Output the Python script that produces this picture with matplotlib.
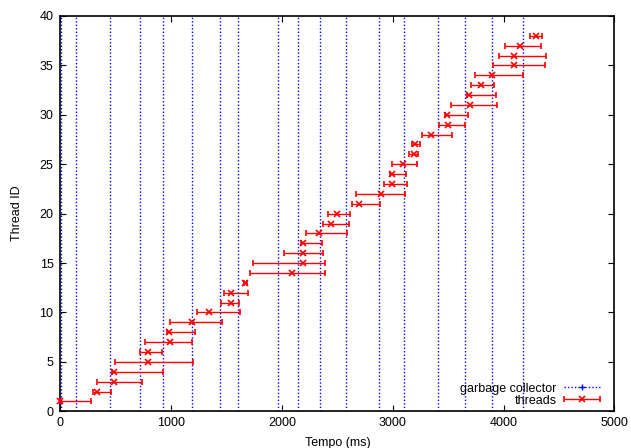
"""
Thread timeline vs. garbage collector runs (gnuplot-like style)
"""

import matplotlib
matplotlib.use("Agg")
import matplotlib.pyplot as plt
from matplotlib.lines import Line2D
from matplotlib.container import ErrorbarContainer
from matplotlib.legend_handler import HandlerErrorbar

# ── Data ─────────────────────────────────────────────────────────────────────

thread_ids = list(range(1, 39))
thread_x = [0, 333, 487, 487, 788, 788, 987, 984, 1188, 1339,
            1540, 1540, 1669, 2091, 2192, 2192, 2187, 2338, 2443, 2494,
            2696, 2893, 2994, 2991, 3095, 3192, 3204, 3343, 3496, 3490,
            3695, 3689, 3795, 3897, 4098, 4098, 4150, 4297]
thread_lo = [0, 291, 328, 466, 493, 722, 764, 962, 987, 1233,
             1447, 1480, 1655, 1714, 1735, 2022, 2172, 2217, 2374, 2419,
             2636, 2672, 2918, 2972, 2997, 3145, 3172, 3262, 3421, 3468,
             3527, 3667, 3703, 3746, 3903, 3957, 4014, 4237]
thread_hi = [272, 454, 740, 927, 1200, 920, 1191, 1213, 1459, 1621,
             1612, 1691, 1685, 2385, 2389, 2373, 2365, 2585, 2603, 2617,
             2883, 3112, 3130, 3123, 3222, 3229, 3247, 3535, 3656, 3680,
             3942, 3936, 3918, 4179, 4378, 4387, 4342, 4351]

gc_times = [5, 141, 451, 721, 924, 1185, 1441, 1603, 1964, 2145,
            2344, 2576, 2877, 3105, 3407, 3656, 3899, 4179]

x_ticks = [0, 1000, 2000, 3000, 4000, 5000]
y_ticks = [0, 5, 10, 15, 20, 25, 30, 35, 40]

# ── Figura ───────────────────────────────────────────────────────────────────

plt.rcParams["font.family"] = ["Liberation Sans", "DejaVu Sans"]
plt.rcParams["font.size"] = 9

fig = plt.figure(figsize=(6.31, 4.48), dpi=100)
ax = fig.add_axes([0.0957, 0.0819, 0.8778, 0.8824])

# garbage collector: vertical dotted lines
ax.vlines(gc_times, 0, 40, colors="#0000ff", linestyles=(0, (1, 1.5)),
          linewidth=1.0, zorder=1)

# threads: x error bars
err_lo = [x - lo for x, lo in zip(thread_x, thread_lo)]
err_hi = [hi - x for x, hi in zip(thread_x, thread_hi)]
eb = ax.errorbar(thread_x, thread_ids, xerr=[err_lo, err_hi], fmt="x",
                 color="#ff0000", ecolor="#ff0000", elinewidth=1.0,
                 capsize=2.5, capthick=1.0, markersize=5,
                 markeredgewidth=1.2, zorder=3, label="threads")
for artist in eb.lines[0:1] + tuple(eb.lines[1]) + tuple(eb.lines[2]):
    if artist is not None:
        artist.set_clip_on(False)

ax.set_xlim(0, 5000)
ax.set_ylim(0, 40)
ax.set_xticks(x_ticks)
ax.set_yticks(y_ticks)

ax.tick_params(direction="in", length=4.5, width=0.8, top=True, right=True,
               labelsize=9, colors="#000000")
ax.tick_params(axis="x", pad=4)
ax.tick_params(axis="y", pad=5)
for sp in ax.spines.values():
    sp.set_linewidth(1.2)

ax.set_xlabel("Tempo (ms)", fontsize=9)
ax.set_ylabel("Thread ID", fontsize=9)
ax.xaxis.set_label_coords(0.5, -0.064)
ax.yaxis.set_label_coords(-0.067, 0.5)

# ── Leyenda ──────────────────────────────────────────────────────────────────

gc_handle = Line2D([], [], color="#0000ff", linestyle=(0, (1, 1.5)),
                   linewidth=1.0, marker="+", markersize=5)
leg = ax.legend([gc_handle, eb], ["garbage collector", "threads"],
                loc="lower right", frameon=False, markerfirst=False,
                handlelength=2.9, handletextpad=0.6, labelspacing=0.0,
                borderaxespad=0.0, borderpad=0.0,
                bbox_to_anchor=(0.975, 0.012),
                handler_map={ErrorbarContainer: HandlerErrorbar(xerr_size=1.45)})

fig.savefig("out.png", dpi=100)
